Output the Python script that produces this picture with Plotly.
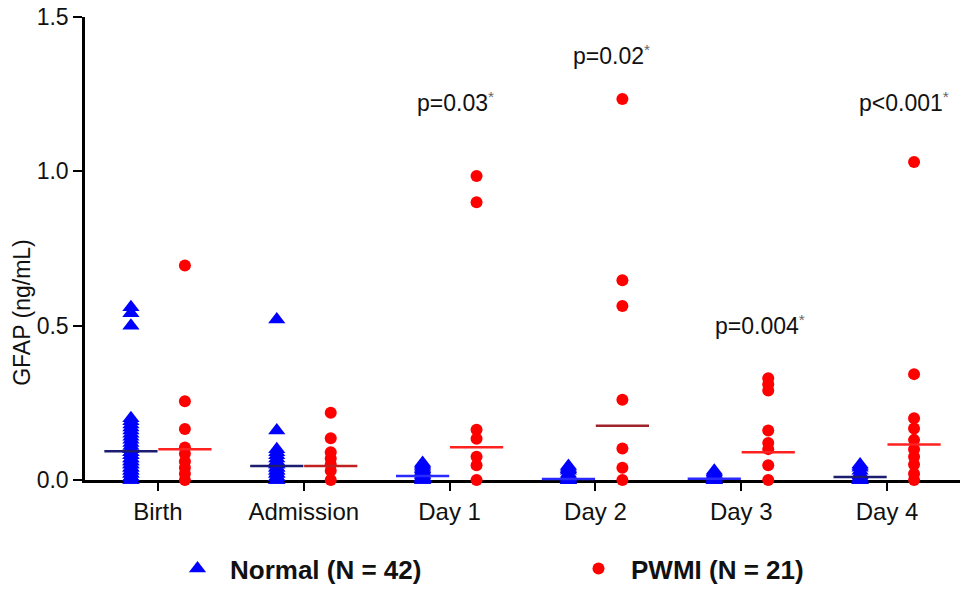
import plotly.graph_objects as go

categories = ["Birth", "Admission", "Day 1", "Day 2", "Day 3", "Day 4"]

normal_values = [
    [0.56, 0.54, 0.50, 0.20, 0.19, 0.18, 0.17, 0.16, 0.15, 0.14, 0.13, 0.12, 0.11,
     0.10, 0.10, 0.09, 0.09, 0.08, 0.08, 0.07, 0.07, 0.06, 0.06, 0.05, 0.05, 0.04,
     0.04, 0.03, 0.03, 0.02, 0.02, 0.01, 0.01, 0.0, 0.0],
    [0.52, 0.16, 0.10, 0.09, 0.08, 0.07, 0.06, 0.05, 0.05, 0.04, 0.04, 0.03, 0.03,
     0.02, 0.02, 0.01, 0.01, 0.0, 0.0],
    [0.055, 0.05, 0.045, 0.04, 0.035, 0.03, 0.025, 0.02, 0.015, 0.01, 0.01, 0.005,
     0.005, 0.0, 0.0],
    [0.045, 0.04, 0.035, 0.03, 0.02, 0.015, 0.01, 0.005, 0.0, 0.0, 0.0],
    [0.03, 0.025, 0.02, 0.015, 0.01, 0.005, 0.0, 0.0, 0.0],
    [0.05, 0.045, 0.04, 0.03, 0.02, 0.015, 0.01, 0.005, 0.0, 0.0, 0.0],
]

pwmi_values = [
    [0.695, 0.255, 0.165, 0.105, 0.085, 0.06, 0.04, 0.02, 0.0],
    [0.218, 0.135, 0.09, 0.07, 0.05, 0.03, 0.0],
    [0.985, 0.90, 0.163, 0.134, 0.075, 0.048, 0.0],
    [1.234, 0.647, 0.564, 0.26, 0.102, 0.04, 0.0],
    [0.33, 0.31, 0.29, 0.16, 0.12, 0.10, 0.048, 0.0],
    [1.03, 0.343, 0.20, 0.167, 0.13, 0.10, 0.075, 0.05, 0.02, 0.0],
]

normal_medians = [0.093, 0.045, 0.013, 0.003, 0.004, 0.010]
pwmi_medians = [0.100, 0.045, 0.106, 0.176, 0.090, 0.115]

normal_median_colors = ["#1c1c70", "#1c1c70", "#2a2aff", "#2a2aff", "#2a2aff", "#1c1c70"]
pwmi_median_colors = ["#ff2020", "#c02020", "#ff2020", "#a0222a", "#ff2020", "#ff2020"]

p_labels = ["p=0.03", "p=0.02", "p=0.004", "p<0.001"]
p_x = [2.04, 3.11, 4.13, 5.115]
p_y = [1.224, 1.378, 0.503, 1.224]

y_ticks = [0, 0.5, 1.0, 1.5]

OFF = 0.185
FONT = "Liberation Sans, Arial, sans-serif"

W, H = 960, 592
ML, MR, MT, MB = 85, 0, 17, 107
PLOT_W, PLOT_H = W - ML - MR, H - MT - MB

nx, ny = [], []
for i, vals in enumerate(normal_values):
    nx += [i - OFF] * len(vals)
    ny += vals
px, py = [], []
for i, vals in enumerate(pwmi_values):
    px += [i + OFF] * len(vals)
    py += vals

fig = go.Figure()
fig.add_trace(go.Scatter(
    x=nx, y=ny, mode="markers", name="Normal (N = 42)", legend="legend",
    marker=dict(symbol="triangle-up", size=15, color="#0000ff"),
    cliponaxis=False,
))
fig.add_trace(go.Scatter(
    x=px, y=py, mode="markers", name="PWMI (N = 21)", legend="legend2",
    marker=dict(symbol="circle", size=12, color="#ff0000"),
    cliponaxis=False,
))
fig.add_trace(go.Scatter(
    x=[i - OFF for i in range(len(categories))], y=normal_medians, mode="markers",
    showlegend=False,
    marker=dict(symbol="line-ew", size=38, line=dict(width=2.5, color=normal_median_colors)),
    cliponaxis=False,
))
fig.add_trace(go.Scatter(
    x=[i + OFF for i in range(len(categories))], y=pwmi_medians, mode="markers",
    showlegend=False,
    marker=dict(symbol="line-ew", size=38, line=dict(width=2.5, color=pwmi_median_colors)),
    cliponaxis=False,
))

for lab, xx, yy in zip(p_labels, p_x, p_y):
    fig.add_annotation(
        x=xx, y=yy, xref="x", yref="y", showarrow=False,
        text=lab + "<span style='color:#666666;font-size:22px'><sup>*</sup></span>",
        font=dict(family=FONT, size=23, color="#111111"),
    )

# y-axis title as rotated text (page position ~x=22, y=316)
fig.add_annotation(
    x=(22 - ML) / PLOT_W, y=(H - MB - 316) / PLOT_H,
    xref="paper", yref="paper", xanchor="center", yanchor="middle",
    showarrow=False, text="GFAP (ng/mL)", textangle=-90,
    font=dict(family=FONT, size=23, color="#111111"),
)

legend_common = dict(
    orientation="h", xanchor="left", yanchor="middle", y=(H - MB - 575) / PLOT_H,
    font=dict(family=FONT, size=26, color="#111111", weight="bold"),
    itemsizing="trace", itemwidth=55, bgcolor="rgba(0,0,0,0)",
)

fig.update_layout(
    width=W, height=H,
    margin=dict(l=ML, r=MR, t=MT, b=MB),
    paper_bgcolor="white", plot_bgcolor="white",
    font=dict(family=FONT, color="#111111"),
    showlegend=True,
    legend=dict(x=(165 - ML) / PLOT_W, **legend_common),
    legend2=dict(x=(566 - ML) / PLOT_W, **legend_common),
    xaxis=dict(
        range=[-0.5, 5.5], tickmode="array", tickvals=list(range(len(categories))),
        ticktext=categories, ticks="outside", ticklen=8, tickwidth=2, tickcolor="black",
        showline=True, linecolor="black", linewidth=2.5, showgrid=False, zeroline=False,
        tickfont=dict(family=FONT, size=24, color="#111111"),
        automargin=False, layer="below traces", ticklabeloverflow="allow",
    ),
    yaxis=dict(
        range=[0, 1.5], tickmode="array", tickvals=y_ticks,
        tickformat=".1f", ticks="outside", ticklen=9, tickwidth=2, tickcolor="black",
        showline=True, linecolor="black", linewidth=2.5, showgrid=False, zeroline=False,
        tickfont=dict(family=FONT, size=23, color="#111111"),
        automargin=False, layer="below traces", ticklabeloverflow="allow",
    ),
)

fig.write_html(
    "out.html",
    config={"displayModeBar": False},
    post_script="document.body.style.margin='0';document.body.style.overflow='hidden';",
)
